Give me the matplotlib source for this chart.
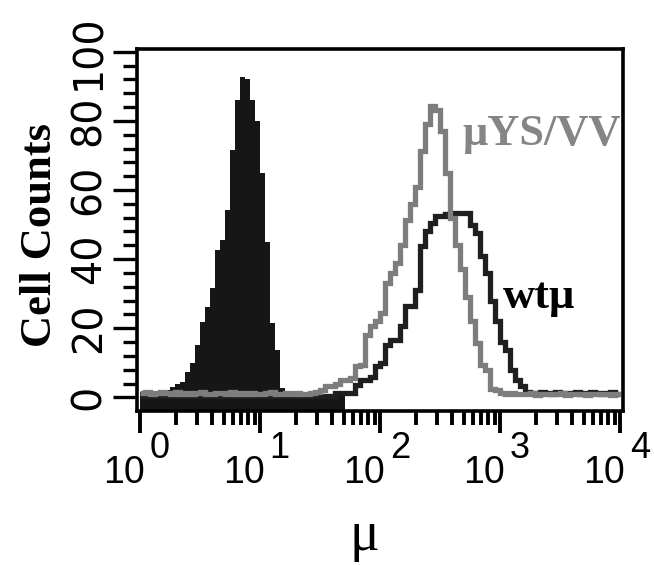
import numpy as np
import matplotlib
matplotlib.use("Agg")
import matplotlib.pyplot as plt
from matplotlib.ticker import LogLocator, MultipleLocator, NullFormatter

# ---- data -------------------------------------------------------------
# histogram channels: 24 log-spaced channels per decade, 10^0 .. 10^4
channels_per_decade = 24
n_channels = 96
decades = [0, 1, 2, 3, 4]
y_ticks = [0, 20, 40, 60, 80, 100]

# filled (negative control) histogram, channels 0..40
control_counts = [1.5, 1.8, 1.2, 1.5, 1.4, 2.0,
                  3.0, 4.0, 4.5, 7.2, 9.8, 15, 21.7, 26, 31.6, 42.6,
                  45.5, 54.2, 71.5, 86, 92.8, 92, 86, 80, 65, 45,
                  21.4, 13.6, 2.6, 1.4,
                  1.2, 1.0, 1.3, 1.1, 1.0, 0.8, 1.0, 0.8, 0.6, 0.5, 0.4]

# muYS/VV (grey outline), channels 0..95
ys_vv_counts = [1.2, 1.5, 1.0, 1.3, 1.6, 1.2, 1.0, 1.4, 1.1, 1.3,
                1.0, 1.2, 1.5, 1.1, 1.0, 1.3, 1.2, 1.0, 1.4, 1.1,
                1.2, 1.0, 1.3, 1.1, 1.0, 1.2, 1.4, 1.0, 1.1, 1.3,
                1.0, 1.2,
                1, 1, 1.2, 1.5, 2, 3.3, 3.3, 4, 5, 5,
                5.5, 9, 9.5, 18, 20.7, 22, 24.5, 33, 36, 39,
                44, 51.4, 56, 61, 71.4, 79, 84.4, 83, 77, 65,
                52, 44, 37, 29, 22, 15.8, 9.5, 8, 2.5, 2,
                1.2, 1.0, 1.3, 0.9, 1.1, 1.0, 1.2, 0.8, 1.0, 1.1,
                0.9, 1.0, 1.2, 0.8, 1.0, 0.9, 1.1, 0.8, 1.0, 0.9,
                1.1, 1.0, 0.8, 1.0]

# wt mu (black outline), channels 0..95
wt_counts = [0.5] * 39 + [
    1.3, 1.3, 1.3, 1.3,
    3.5, 5, 5, 6, 9.1, 10, 15, 16.7, 16.7, 20.7,
    26.5, 26.5, 31, 43.9, 48, 50.5, 52.6, 52.6, 53, 53.4,
    53.4, 53.4, 53.4, 50, 47.6, 41, 36, 28, 22, 16,
    13.8, 8, 5, 3.3, 1.5,
    1.2, 1.0, 1.4, 1.3, 1.1, 1.5, 1.2, 1.0, 1.3, 1.4,
    1.1, 1.2, 1.5, 1.3, 1.0, 1.2, 1.4, 1.1]

edges = 10.0 ** (np.arange(n_channels + 1) / channels_per_decade)

# ---- figure -----------------------------------------------------------
fig = plt.figure(figsize=(6.54, 5.65), dpi=100)
ax = fig.add_axes([0.2095, 0.2726, 0.7431, 0.6407])
ax.set_xscale("log")
ax.set_xlim(0.944, 10593)
ymin, ymax = -3.95, 100.8
ax.set_ylim(ymin, ymax)

ax.stairs(control_counts, edges[:len(control_counts) + 1], baseline=ymin,
          fill=True, color="#161616", zorder=2)
ax.stairs(wt_counts, edges, baseline=None, color="#1f1f1f", lw=3.8, zorder=3)
ax.stairs(ys_vv_counts, edges, baseline=None, color="#7d7d7d", lw=3.8, zorder=4)

for sp in ax.spines.values():
    sp.set_linewidth(2.6)
    sp.set_zorder(5)

# y axis
ax.set_yticks(y_ticks)
ax.yaxis.set_minor_locator(MultipleLocator(4))
ax.set_yticklabels([str(v) for v in y_ticks], rotation=90, va="center",
                   fontsize=28.5, family="DejaVu Sans")
ax.tick_params(axis="y", which="major", direction="out", length=17, width=2.4, pad=3)
ax.tick_params(axis="y", which="minor", direction="out", length=10, width=2.4)

# x axis
ax.set_xticks([10.0 ** d for d in decades])
ax.xaxis.set_minor_locator(LogLocator(base=10, subs=np.arange(2, 10), numticks=20))
ax.xaxis.set_major_formatter(NullFormatter())
ax.xaxis.set_minor_formatter(NullFormatter())
ax.tick_params(axis="x", which="major", direction="out", length=16, width=2.8)
ax.tick_params(axis="x", which="minor", direction="out", length=10, width=2.8)

for d in decades:
    ax.annotate("10", xy=(10.0 ** d, 0), xycoords=("data", "axes fraction"),
                xytext=(3.2, -51.8), textcoords="offset points",
                ha="right", va="baseline", fontsize=27,
                family="Liberation Sans", annotation_clip=False)
    ax.annotate(str(d), xy=(10.0 ** d, 0), xycoords=("data", "axes fraction"),
                xytext=(7.0, -33.5), textcoords="offset points",
                ha="left", va="baseline", fontsize=26,
                family="Liberation Sans", annotation_clip=False)

# labels
fig.text(0.061, 0.584, "Cell Counts", rotation=90, ha="center", va="center",
         fontsize=32, fontweight="bold", family="Liberation Serif")
fig.text(0.5566, 0.0265, "μ", ha="center", va="baseline",
         fontsize=40, family="Liberation Serif")

ax.text(482, 73.0, "μYS/VV", ha="left", va="baseline", fontsize=32,
        fontweight="bold", family="Liberation Serif", color="#858585")
ax.text(1059, 25.8, "wtμ", ha="left", va="baseline", fontsize=32,
        fontweight="bold", family="Liberation Serif", color="black")

fig.savefig("out.png", dpi=100)
